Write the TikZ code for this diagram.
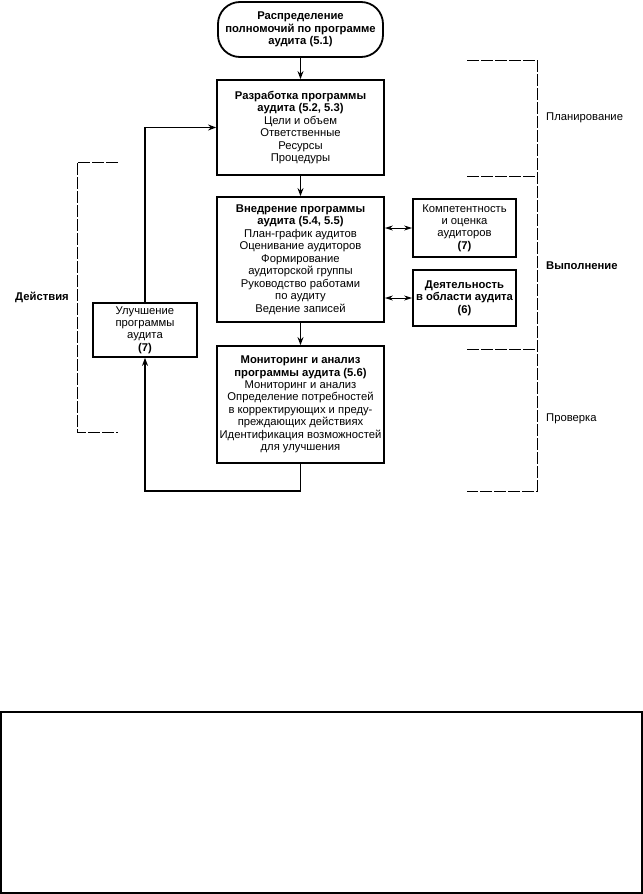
\documentclass[tikz,border=0pt]{standalone}
\usepackage{fontspec}
\setmainfont{Liberation Sans}
\usetikzlibrary{arrows.meta}
\tikzset{
  box/.style={draw, line width=1.8bp, align=center, inner sep=0pt, font=\fontsize{11.3}{12.5}\selectfont},
  conn/.style={line width=1.6bp},
  arr/.style={conn, -{Stealth[length=8bp,width=6bp]}},
  darr/.style={line width=1bp, {Stealth[length=8bp,width=5bp]}-{Stealth[length=8bp,width=5bp]}},
  brk/.style={line width=0.8bp, dash pattern=on 12bp off 2bp},
  lbl/.style={font=\fontsize{11.3}{12.5}\selectfont, inner sep=0pt}
}
\begin{document}
\begin{tikzpicture}[x=1bp,y=-1bp]
\useasboundingbox (0,0) rectangle (643,894);
% top rounded node
\node[box, rounded corners=22bp, minimum width=165bp, minimum height=55bp] (top) at (300.5,29.5)
  {\bfseries Распределение\\\bfseries полномочий по программе\\\bfseries аудита (5.1)};
% main boxes
\node[box, minimum width=167bp, minimum height=95bp] (b2) at (300.5,127.5)
  {\bfseries Разработка программы\\\bfseries аудита (5.2, 5.3)\\Цели и объем\\Ответственные\\Ресурсы\\Процедуры};
\node[box, minimum width=167bp, minimum height=125bp] (b3) at (300.5,259.5)
  {\bfseries Внедрение программы\\\bfseries аудита (5.4, 5.5)\\План-график аудитов\\Оценивание аудиторов\\Формирование\\аудиторской группы\\Руководство работами\\по аудиту\\Ведение записей};
\node[box, minimum width=167bp, minimum height=117bp] (b4) at (300.5,404.5)
  {\bfseries Мониторинг и анализ\\\bfseries программы аудита (5.6)\\Мониторинг и анализ\\Определение потребностей\\в корректирующих и преду-\\преждающих действиях\\Идентификация возможностей\\для улучшения};
% side boxes
\node[box, minimum width=103bp, minimum height=58bp] (comp) at (464.5,228)
  {Компетентность\\и оценка\\аудиторов\\\bfseries (7)};
\node[box, minimum width=103bp, minimum height=56bp] (act) at (464.5,298)
  {\bfseries Деятельность\\\bfseries в области аудита\\\bfseries (6)};
\node[box, minimum width=104bp, minimum height=54bp] (imp) at (145,330)
  {Улучшение\\программы\\аудита\\\bfseries (7)};
% connectors
\draw[arr] (top.south) -- (b2.north);
\draw[arr] (b2.south) -- (b3.north);
\draw[arr] (b3.south) -- (b4.north);
\draw[darr] (b3.east |- comp.west) -- (comp.west);
\draw[darr] (b3.east |- act.west) -- (act.west);
\coordinate (loopR) at (300.5,491);
\draw[arr] (b4.south) -- (loopR) -| (imp.south);
\draw[arr] (imp.north) |- (b2.west);
% right bracket
\draw[brk] (467,60) -- (537,60) -- (537,491) -- (467,491);
\draw[brk] (467,176) -- (537,176);
\draw[brk] (467,349) -- (537,349);
\node[lbl, anchor=west] (plan) at (546,118) {Планирование};
\node[lbl, anchor=west, font=\fontsize{11.3}{12.5}\selectfont\bfseries] (vyp) at (546,266) {Выполнение};
\node[lbl, anchor=west] (prov) at (546,419) {Проверка};
% left bracket
\draw[brk] (118,162) -- (77,162) -- (77,432) -- (118,432);
\node[lbl, font=\fontsize{11.3}{12.5}\selectfont\bfseries] (dei) at (42,297) {Действия};
% bottom frame
\draw[line width=1.4bp] (1,712) rectangle (642,893);
\end{tikzpicture}
\end{document}
